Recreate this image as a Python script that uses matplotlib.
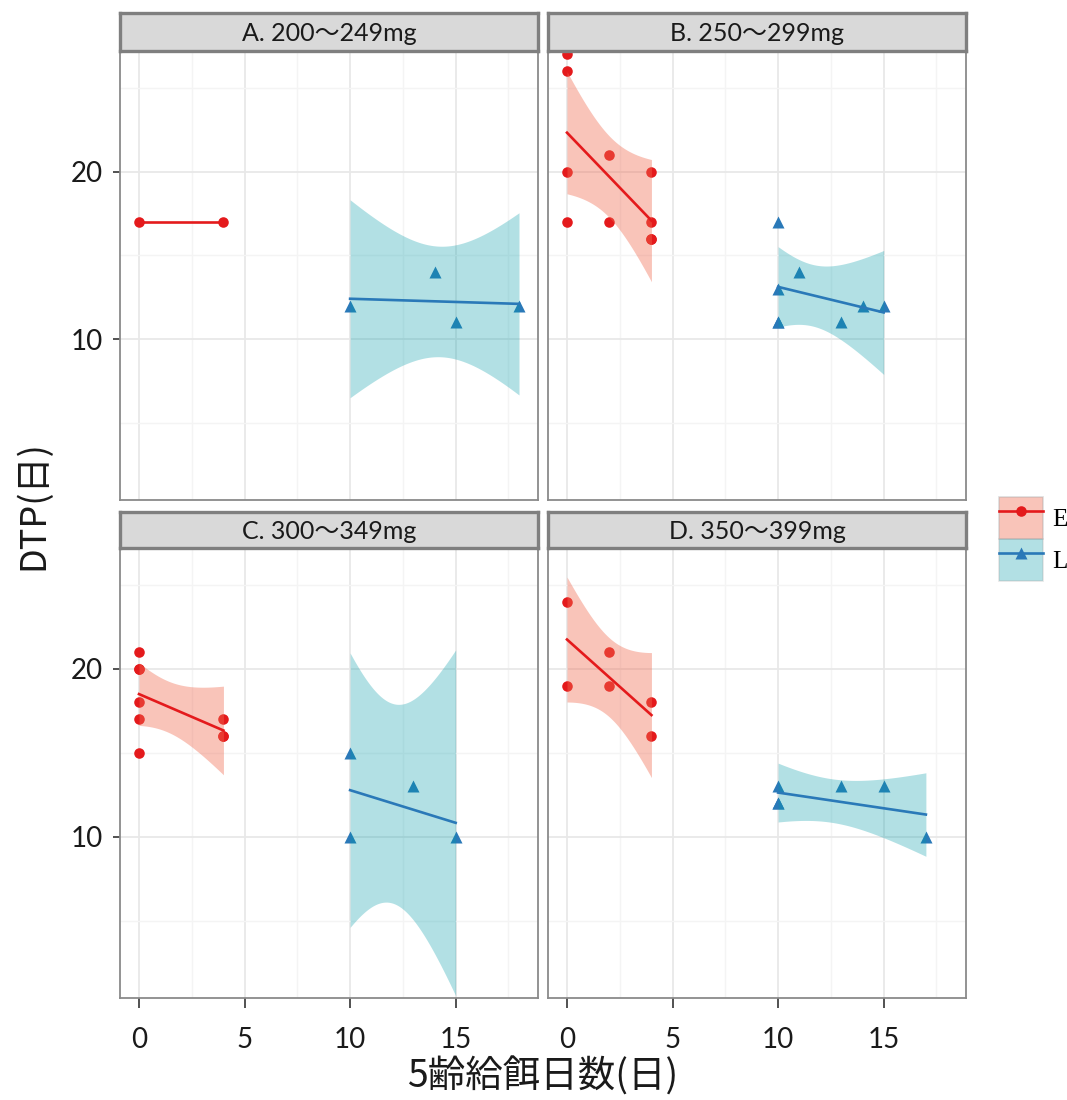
import numpy as np
import matplotlib
matplotlib.use("Agg")
import matplotlib.pyplot as plt
from matplotlib.lines import Line2D
from matplotlib.patches import Patch
from math import gamma, pi, sqrt

# ---- data: days of 5th-instar feeding vs DTP, by pupal weight class ----
PANEL_TITLES = ["A. 200～249mg", "B. 250～299mg", "C. 300～349mg", "D. 350～399mg"]
GROUPS = ["E", "L"]

A_E_DAYS = [0, 4]
A_E_DTP = [17, 17]
A_L_DAYS = [10, 14, 15, 18]
A_L_DTP = [12, 14, 11, 12]

B_E_DAYS = [0, 0, 0, 0, 2, 2, 4, 4, 4, 4]
B_E_DTP = [27, 26, 20, 17, 21, 17, 20, 17, 16, 16]
B_L_DAYS = [10, 10, 10, 10, 11, 13, 14, 15]
B_L_DTP = [17, 13, 11, 11, 14, 11, 12, 12]

C_E_DAYS = [0, 0, 0, 0, 0, 0, 4, 4, 4]
C_E_DTP = [21, 20, 20, 18, 17, 15, 17, 16, 16]
C_L_DAYS = [10, 10, 13, 15]
C_L_DTP = [15, 10, 13, 10]

D_E_DAYS = [0, 0, 2, 2, 4, 4]
D_E_DTP = [24, 19, 21, 19, 18, 16]
D_L_DAYS = [10, 10, 10, 13, 15, 17]
D_L_DTP = [13, 12, 12, 13, 13, 10]

X_TICKS = [0, 5, 10, 15]
Y_TICKS = [10, 20]
X_LABEL = "5齢給餌日数(日)"
Y_LABEL = "DTP(日)"

panel_data = [
    ((A_E_DAYS, A_E_DTP), (A_L_DAYS, A_L_DTP)),
    ((B_E_DAYS, B_E_DTP), (B_L_DAYS, B_L_DTP)),
    ((C_E_DAYS, C_E_DTP), (C_L_DAYS, C_L_DTP)),
    ((D_E_DAYS, D_E_DTP), (D_L_DAYS, D_L_DTP)),
]

STYLE = {
    "E": dict(marker="o", color="#E41A1C", line="#E41A1C", fill="#F06C52", alpha=0.40, ms=7.6),
    "L": dict(marker="^", color="#2A79B8", line="#2A79B8", fill="#009BA8", alpha=0.30, ms=8.4),
}

TICK_FONT = ["Lato", "Noto Sans CJK JP", "DejaVu Sans"]
CJK_FONT = ["Noto Sans CJK JP", "DejaVu Sans"]

W, H = 1067, 1100
fig = plt.figure(figsize=(W / 100, H / 100), dpi=100)


def px_axes(x0, y0, x1, y1):
    return fig.add_axes([x0 / W, 1 - y1 / H, (x1 - x0) / W, (y1 - y0) / H])


def t975(df):
    c = gamma((df + 1) / 2) / (sqrt(df * pi) * gamma(df / 2))

    def cdf(t):
        u = np.linspace(0, t, 40001)
        return 0.5 + np.trapezoid(c * (1 + u ** 2 / df) ** (-(df + 1) / 2), u)

    lo, hi = 0.0, 100.0
    for _ in range(70):
        mid = (lo + hi) / 2
        if cdf(mid) < 0.975:
            lo = mid
        else:
            hi = mid
    return (lo + hi) / 2


def lm_band(x, y, n_grid=80):
    """Least-squares line with its 95% confidence band."""
    x = np.asarray(x, float)
    y = np.asarray(y, float)
    n = len(x)
    xs = np.linspace(x.min(), x.max(), n_grid)
    slope, icpt = np.polyfit(x, y, 1)
    fit = icpt + slope * xs
    if n <= 2:
        return xs, fit, None, None
    resid = y - (icpt + slope * x)
    s = sqrt(np.sum(resid ** 2) / (n - 2))
    sxx = np.sum((x - x.mean()) ** 2)
    se = s * np.sqrt(1 / n + (xs - x.mean()) ** 2 / sxx)
    hw = t975(n - 2) * se
    return xs, fit, fit - hw, fit + hw


# pixel boxes of panels and strips
PANEL_BOX = [(120, 51, 538, 500), (548, 51, 966, 500),
             (120, 548, 538, 998), (548, 548, 966, 998)]
STRIP_BOX = [(120, 13, 538, 51), (548, 13, 966, 51),
             (120, 512, 538, 548), (548, 512, 966, 548)]

for i, (title, groups) in enumerate(zip(PANEL_TITLES, panel_data)):
    ax = px_axes(*PANEL_BOX[i])
    ax.set_xlim(-0.9, 18.9)
    ax.set_ylim(0.4, 27.2)
    ax.set_xticks(X_TICKS)
    ax.set_xticks([2.5, 7.5, 12.5, 17.5], minor=True)
    ax.set_yticks(Y_TICKS)
    ax.set_yticks([5, 15, 25], minor=True)
    ax.set_axisbelow(True)
    ax.grid(which="major", color="#E8E8E8", lw=1.3)
    ax.grid(which="minor", color="#F4F4F4", lw=1.0)
    for sp in ax.spines.values():
        sp.set_color("#8A8A8A")
        sp.set_linewidth(1.3)
    ax.tick_params(which="minor", length=0)
    ax.tick_params(axis="y", which="major", length=5, width=1.2, color="#333333",
                   pad=7, labelsize=20, labelcolor="#1A1A1A")
    ax.tick_params(axis="x", which="major", length=7, width=1.2, color="#333333",
                   pad=14, labelsize=20, labelcolor="#1A1A1A")
    if i in (0, 1):
        ax.tick_params(axis="x", which="major", length=0, labelbottom=False)
    if i in (1, 3):
        ax.tick_params(axis="y", which="major", length=0, labelleft=False)
    for lab in ax.get_xticklabels() + ax.get_yticklabels():
        lab.set_fontfamily(TICK_FONT)

    for g, (xd, yd) in zip(GROUPS, groups):
        st = STYLE[g]
        ax.plot(xd, yd, ls="none", marker=st["marker"], ms=st["ms"],
                mfc=st["color"], mec="none", zorder=2)
        xs, fit, lo, hi = lm_band(xd, yd)
        if lo is not None:
            ax.fill_between(xs, lo, hi, color=st["fill"], alpha=st["alpha"],
                            lw=0, zorder=3)
        ax.plot(xs, fit, color=st["line"], lw=1.9, zorder=4)

    sax = px_axes(*STRIP_BOX[i])
    sax.set_facecolor("#D9D9D9")
    sax.set_xticks([])
    sax.set_yticks([])
    for sp in sax.spines.values():
        sp.set_color("#7F7F7F")
        sp.set_linewidth(2.4)
    sax.text(0.5, 0.46, title, ha="center", va="center", fontsize=18,
             family=TICK_FONT, color="#1A1A1A", transform=sax.transAxes)

fig.text(543 / W, 1 - 1077 / H, X_LABEL, ha="center", va="center",
         fontsize=27, family=CJK_FONT, color="#1A1A1A")
fig.text(33 / W, 1 - 505 / H, Y_LABEL, ha="center", va="center", rotation=90,
         fontsize=26, family=CJK_FONT, color="#1A1A1A")

handles = []
for g in GROUPS:
    st = STYLE[g]
    patch = Patch(facecolor=st["fill"], alpha=st["alpha"], edgecolor="#A8A8A8", lw=1.2)
    line = Line2D([], [], color=st["line"], lw=1.9, marker=st["marker"],
                  ms=st["ms"], mfc=st["color"], mec="none")
    handles.append((patch, line))

# legend key boxes of about 44 x 42 px
leg_fs = 18
fs_px = leg_fs * 100 / 72
key_h = (42 / fs_px - 0.245) / 0.65
fig.legend(handles, GROUPS, loc="upper left",
           bbox_to_anchor=(999 / W, 1 - 497 / H), frameon=False,
           prop={"family": ["Liberation Serif"], "size": leg_fs},
           handlelength=44 / fs_px, handleheight=key_h,
           labelspacing=0.0, borderpad=0.0, borderaxespad=0.0, handletextpad=0.35)

fig.savefig("out.png", dpi=100, facecolor="white")
